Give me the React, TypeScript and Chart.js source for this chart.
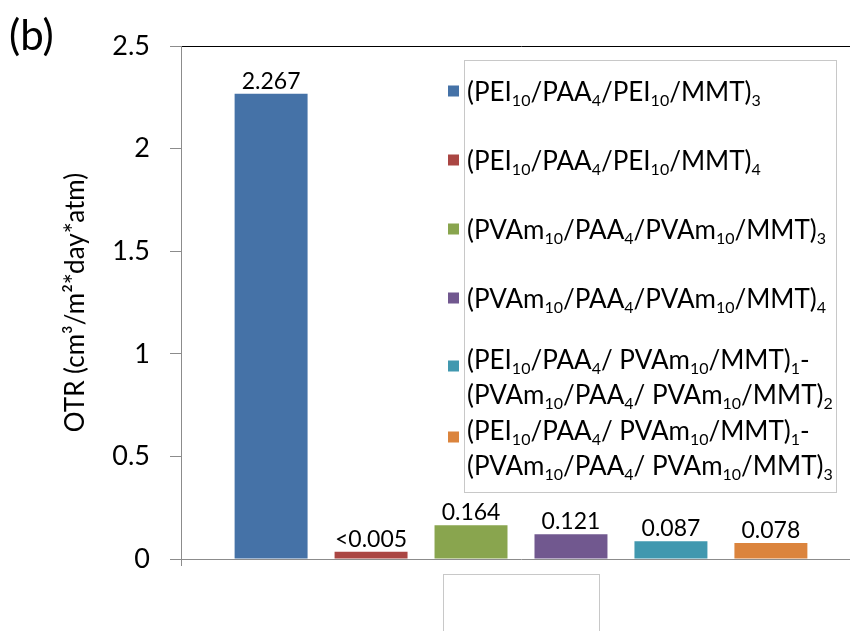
import React, { useEffect, useRef } from "react";
import { Chart, registerables } from "chart.js";

Chart.register(...registerables);

const categories: string[] = [""];
const seriesLabels: string[] = [
  "(PEI_{10}/PAA_{4}/PEI_{10}/MMT)_{3}",
  "(PEI_{10}/PAA_{4}/PEI_{10}/MMT)_{4}",
  "(PVAm_{10}/PAA_{4}/PVAm_{10}/MMT)_{3}",
  "(PVAm_{10}/PAA_{4}/PVAm_{10}/MMT)_{4}",
  "(PEI_{10}/PAA_{4}/ PVAm_{10}/MMT)_{1}-\n(PVAm_{10}/PAA_{4}/ PVAm_{10}/MMT)_{2}",
  "(PEI_{10}/PAA_{4}/ PVAm_{10}/MMT)_{1}-\n(PVAm_{10}/PAA_{4}/ PVAm_{10}/MMT)_{3}",
];
const seriesValues: number[] = [2.267, 0.035, 0.164, 0.121, 0.087, 0.078];
const valueLabels: string[] = ["2.267", "<0.005", "0.164", "0.121", "0.087", "0.078"];
const seriesColors: string[] = ["#4572A7", "#AA4643", "#89A54E", "#71588F", "#4198AF", "#DB843D"];
const yTicks: number[] = [0, 0.5, 1, 1.5, 2, 2.5];
const yTitle = "OTR (cm³/m²*day*atm)";
const panelLabel = "(b)";

const FONT = "Lato, 'Open Sans', sans-serif";

type Seg = { text: string; sub: boolean };
function parseRich(s: string): Seg[] {
  const segs: Seg[] = [];
  const re = /_\{([^}]*)\}/g;
  let last = 0;
  let m: RegExpExecArray | null;
  while ((m = re.exec(s))) {
    if (m.index > last) segs.push({ text: s.slice(last, m.index), sub: false });
    segs.push({ text: m[1], sub: true });
    last = m.index + m[0].length;
  }
  if (last < s.length) segs.push({ text: s.slice(last), sub: false });
  return segs;
}

function drawRich(ctx: CanvasRenderingContext2D, s: string, x: number, y: number, size: number) {
  let cx = x;
  for (const seg of parseRich(s)) {
    const fs = seg.sub ? Math.round(size * 0.62) : size;
    ctx.font = `${fs}px ${FONT}`;
    ctx.fillText(seg.text, cx, seg.sub ? y + size * 0.2 : y);
    cx += ctx.measureText(seg.text).width;
  }
}

const decorPlugin = {
  id: "decor",
  afterDraw(chart: any, _args: any, opts: any) {
    const ctx: CanvasRenderingContext2D = chart.ctx;
    ctx.save();
    // panel label
    ctx.fillStyle = "#000";
    ctx.textAlign = "left";
    ctx.textBaseline = "alphabetic";
    ctx.font = `42px ${FONT}`;
    ctx.fillText(panelLabel, opts.panel.x, opts.panel.y);

    // category label box (empty)
    ctx.strokeStyle = "#c8c8c8";
    ctx.lineWidth = 1;
    const cb = opts.catBox;
    ctx.strokeRect(cb.x + 0.5, cb.y + 0.5, cb.w, cb.h);

    // legend box
    const lb = opts.legendBox;
    ctx.fillStyle = "#fff";
    ctx.fillRect(lb.x, lb.y, lb.w, lb.h);
    ctx.strokeRect(lb.x + 0.5, lb.y + 0.5, lb.w, lb.h);

    const datasets = chart.data.datasets;
    datasets.forEach((ds: any, i: number) => {
      const lines: string[] = String(ds.label).split("\n");
      const b0 = opts.rows[i];
      const multi = lines.length > 1;
      const mc = multi ? b0 - 3 : b0 - 10;
      ctx.fillStyle = ds.backgroundColor;
      ctx.fillRect(opts.markerX, mc - 5.5, 11, 11);
      ctx.fillStyle = "#000";
      lines.forEach((ln, j) => {
        drawRich(ctx, ln, opts.textX, b0 + j * opts.lineGap, opts.fontSize);
      });
    });
    ctx.restore();
  },
  afterDatasetsDraw(chart: any) {
    const ctx: CanvasRenderingContext2D = chart.ctx;
    ctx.save();
    ctx.fillStyle = "#000";
    ctx.font = `23px ${FONT}`;
    ctx.textAlign = "center";
    ctx.textBaseline = "alphabetic";
    chart.data.datasets.forEach((ds: any, i: number) => {
      const meta = chart.getDatasetMeta(i);
      meta.data.forEach((el: any) => {
        ctx.fillText(valueLabels[i], el.x, el.y - 5);
      });
    });
    ctx.restore();
  },
};

export default function App() {
  const ref = useRef<HTMLCanvasElement | null>(null);
  useEffect(() => {
    if (!ref.current) return;
    const chart = new Chart(ref.current, {
      type: "bar",
      data: {
        labels: categories,
        datasets: seriesLabels.map((label, i) => ({
          label,
          data: [seriesValues[i]],
          backgroundColor: seriesColors[i],
          borderWidth: 0,
          categoryPercentage: 0.882,
          barPercentage: 0.73,
        })),
      },
      plugins: [decorPlugin],
      options: {
        responsive: false,
        animation: false,
        devicePixelRatio: 1,
        layout: { padding: { top: 46, right: 9, left: 0, bottom: 0 } },
        plugins: {
          legend: { display: false },
          tooltip: { enabled: false },
          decor: {
            panel: { x: 9, y: 50 },
            catBox: { x: 443, y: 574, w: 156, h: 80 },
            legendBox: { x: 464, y: 60, w: 372, h: 432 },
            rows: [101, 170, 239, 308, 369, 440],
            lineGap: 35,
            markerX: 448,
            textX: 467,
            fontSize: 26,
          },
        } as any,
        scales: {
          x: {
            grid: {
              display: true,
              drawOnChartArea: false,
              drawTicks: true,
              tickLength: 7,
              color: "#8c8c8c",
            },
            border: { display: true, color: "#8c8c8c" },
            ticks: { display: false },
            afterFit: (s: any) => {
              s.height = 72;
            },
          },
          y: {
            min: 0,
            max: 2.5,
            afterBuildTicks: (s: any) => {
              s.ticks = yTicks.map((v) => ({ value: v }));
            },
            ticks: {
              color: "#000",
              font: { family: FONT, size: 27 },
              padding: 20,
              callback: (v: any) => String(v),
            },
            grid: {
              drawOnChartArea: true,
              color: (c: any) => (c.tick && c.tick.value === 2.5 ? "#000" : "rgba(0,0,0,0)"),
              tickColor: "#8c8c8c",
              tickLength: 11,
            },
            border: { display: true, color: "#8c8c8c" },
            title: {
              display: true,
              text: yTitle,
              color: "#000",
              font: { family: FONT, size: 26 },
              padding: { top: 60, bottom: 0 },
            },
            afterFit: (s: any) => {
              s.width = 181;
            },
          },
        },
      },
    });
    return () => chart.destroy();
  }, []);
  return (
    <div
      style={{
        position: "fixed",
        left: 0,
        top: 0,
        width: 850,
        height: 631,
        overflow: "hidden",
        background: "#fff",
      }}
    >
      <canvas ref={ref} width={870} height={631} style={{ width: 870, height: 631, display: "block" }} />
    </div>
  );
}
